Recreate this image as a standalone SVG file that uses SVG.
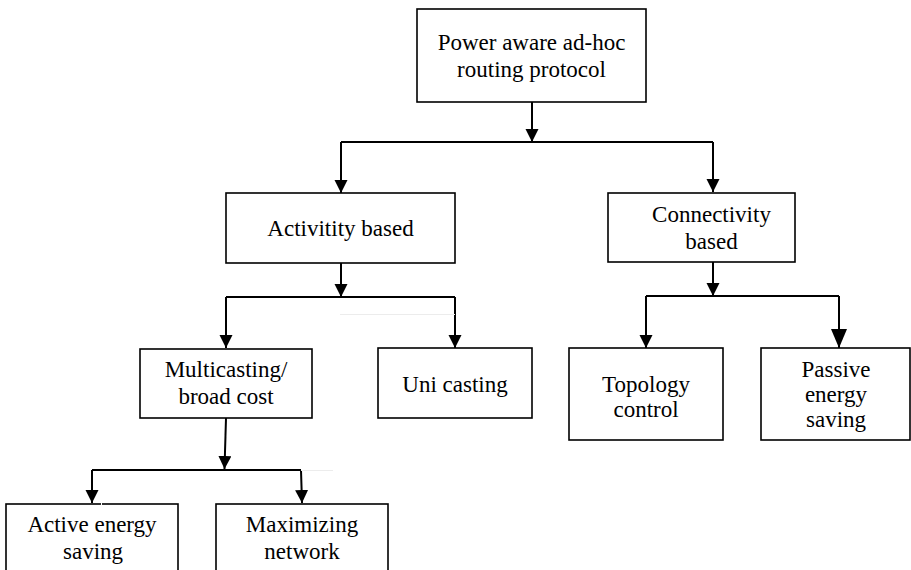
<svg xmlns="http://www.w3.org/2000/svg" width="911" height="570" viewBox="0 0 911 570">
<defs>
<style>
.box{fill:#fff;stroke:#000;stroke-width:1.6}
.t{font-family:'Liberation Serif','Tinos','Times New Roman','Times','Noto Serif','DejaVu Serif','FreeSerif',serif;font-size:23px;fill:#000;text-anchor:middle}
.c{fill:none;stroke:#000;stroke-width:2}
.faint{fill:none;stroke:#ececec;stroke-width:1}
</style>
<marker id="ah" markerUnits="userSpaceOnUse" markerWidth="14" markerHeight="14" refX="13" refY="6.5" orient="auto">
<path d="M0,0 L13,6.5 L0,13 z" fill="#000"/>
</marker>
<marker id="ahb" markerUnits="userSpaceOnUse" markerWidth="20" markerHeight="18" refX="19" refY="8" orient="auto">
<path d="M0,0 L19,8 L0,16 z" fill="#000"/>
</marker>
</defs>
<rect width="911" height="570" fill="#fff"/>

<g id="connectors">
<path class="c" d="M532,102 V142" marker-end="url(#ah)"/>
<path class="c" d="M341,142 H713"/>
<path class="c" d="M341,142 V193" marker-end="url(#ah)"/>
<path class="c" d="M713,142 V192" marker-end="url(#ah)"/>
<path class="c" d="M341,263 V297" marker-end="url(#ah)"/>
<path class="c" d="M226,297 H455"/>
<path class="c" d="M226,297 V348" marker-end="url(#ah)"/>
<path class="c" d="M455,297 V348" marker-end="url(#ah)"/>
<path class="c" d="M713,262 V296" marker-end="url(#ah)"/>
<path class="c" d="M646,296 H839"/>
<path class="c" d="M646,296 V348" marker-end="url(#ah)"/>
<path class="c" d="M839,296 V348" marker-end="url(#ahb)"/>
<path class="c" d="M226,418 L224.5,469" marker-end="url(#ah)"/>
<path class="c" d="M92,470 H301"/>
<path class="c" d="M92,470 V503" marker-end="url(#ah)"/>
<path class="c" d="M301,470 L302,503" marker-end="url(#ah)"/>
<path class="faint" d="M340,314.5 H455"/>
<path class="faint" d="M301,470.5 H333"/>
</g>

<g id="n-root">
<rect class="box" x="417" y="9" width="229" height="93"/>
<text class="t" x="531.5" y="50">Power aware ad-hoc</text>
<text class="t" x="531.5" y="77">routing protocol</text>
</g>

<g id="n-activity">
<rect class="box" x="226" y="193" width="229" height="70"/>
<text class="t" x="340.5" y="236">Activitity based</text>
</g>

<g id="n-connectivity">
<rect class="box" x="608" y="193" width="187" height="69"/>
<text class="t" x="711.5" y="222">Connectivity</text>
<text class="t" x="711.5" y="249">based</text>
</g>

<g id="n-multicast">
<rect class="box" x="140" y="349" width="172" height="69"/>
<text class="t" x="226" y="377">Multicasting/</text>
<text class="t" x="226" y="404">broad cost</text>
</g>

<g id="n-unicast">
<rect class="box" x="378" y="348" width="154" height="70"/>
<text class="t" x="455" y="392">Uni casting</text>
</g>

<g id="n-topology">
<rect class="box" x="569" y="348" width="154" height="92"/>
<text class="t" x="646" y="392">Topology</text>
<text class="t" x="646" y="417">control</text>
</g>

<g id="n-passive">
<rect class="box" x="761" y="348" width="149" height="92"/>
<text class="t" x="836" y="377">Passive</text>
<text class="t" x="836" y="402">energy</text>
<text class="t" x="836" y="427">saving</text>
</g>

<g id="n-active">
<rect class="box" x="6" y="504" width="172" height="80"/>
<text class="t" x="92" y="532">Active energy</text>
<text class="t" x="93" y="559">saving</text>
</g>

<g id="n-maximizing">
<rect class="box" x="216" y="504" width="172" height="80"/>
<text class="t" x="302" y="532">Maximizing</text>
<text class="t" x="302" y="559">network</text>
</g>

<path d="M101.5,471 V505" stroke="#fff" stroke-width="1"/>
</svg>
